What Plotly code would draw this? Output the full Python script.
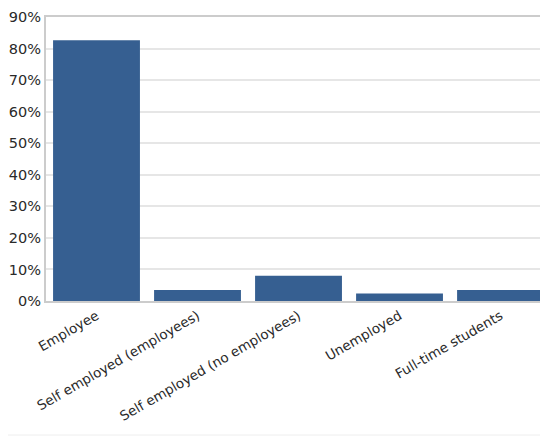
import plotly.graph_objects as go

categories = ["Employee", "Self employed (employees)", "Self employed (no employees)",
              "Unemployed", "Full-time students"]
values = [82.6, 3.5, 8.0, 2.4, 3.5]
y_ticks = [0, 10, 20, 30, 40, 50, 60, 70, 80, 90]
y_labels = [f"{v}%" for v in y_ticks]

fig = go.Figure(go.Bar(x=categories, y=values, marker_color="#365f91",
                       marker_line_width=0))

# page body adds an 8px offset; figure sized to fill the rest of the window
fig.update_layout(
    width=540, height=428,
    margin=dict(l=38, r=0, t=9, b=135),
    paper_bgcolor="white", plot_bgcolor="white",
    bargap=0.14, showlegend=False,
    font=dict(family="DejaVu Sans, sans-serif", size=14.5, color="#2a2a2a"),
)
fig.update_xaxes(range=[-0.5, 4.47], tickangle=-30, showline=True, mirror=True,
                 linecolor="#cccccc", linewidth=2, ticks="", showgrid=False,
                 automargin=False, tickfont=dict(size=13.5))
fig.update_yaxes(range=[0, 90], tickvals=y_ticks, ticktext=y_labels,
                 showline=True, linecolor="#cccccc", linewidth=2,
                 gridcolor="#e6e6e6", gridwidth=2, ticks="", zeroline=False,
                 automargin=False)
fig.add_shape(type="line", xref="paper", yref="paper", x0=-0.2, x1=1.1,
              y0=-0.472, y1=-0.472, line=dict(color="#eeeeee", width=1))

fig.write_html("out.html")
